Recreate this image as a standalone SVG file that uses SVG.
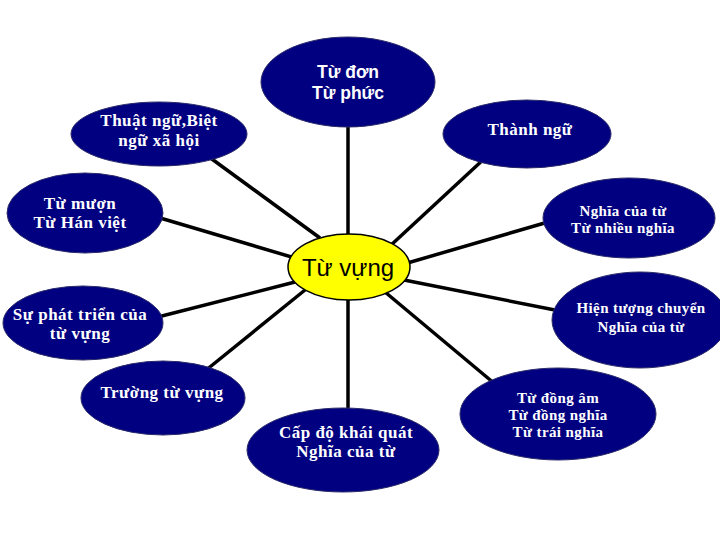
<svg xmlns="http://www.w3.org/2000/svg" width="720" height="540" viewBox="0 0 720 540">
<style>
.n{fill:#000080;stroke:#2a2a6a;stroke-width:1}
.t{fill:#fff;font-family:"Liberation Serif","DejaVu Serif",serif;font-weight:bold;font-size:17px;letter-spacing:0.5px;text-anchor:middle}
.m{fill:#fff;font-family:"Liberation Serif","DejaVu Serif",serif;font-weight:bold;font-size:15px;letter-spacing:0.4px;text-anchor:middle}
.s{fill:#fff;font-family:"Liberation Sans","DejaVu Sans",sans-serif;font-weight:bold;font-size:17.5px;text-anchor:middle}
.c line{stroke:#000;stroke-width:3.5}
</style>
<rect width="720" height="540" fill="#fff"/>
<g id="connectors" class="c">
<line x1="348" y1="120" x2="348" y2="240"/>
<line x1="205" y1="154" x2="320" y2="238"/>
<line x1="150" y1="215" x2="295" y2="258"/>
<line x1="485" y1="158" x2="390" y2="246"/>
<line x1="555" y1="220" x2="404" y2="264"/>
<line x1="150" y1="319" x2="295" y2="282"/>
<line x1="560" y1="311" x2="404" y2="280"/>
<line x1="200" y1="375" x2="305" y2="290"/>
<line x1="348" y1="295" x2="348" y2="415"/>
<line x1="495" y1="384" x2="385" y2="292"/>
</g>
<g id="tu-don"><ellipse class="n" cx="348" cy="82" rx="87" ry="45"/><text class="s" x="348" y="78">Từ đơn</text><text class="s" x="348" y="99">Từ phức</text></g>
<g id="thuat-ngu"><ellipse class="n" cx="159" cy="134" rx="88" ry="32"/><text class="t" x="159" y="126">Thuật ngữ,Biệt</text><text class="t" x="159" y="146">ngữ xã hội</text></g>
<g id="thanh-ngu"><ellipse class="n" cx="527" cy="134" rx="84" ry="34"/><text class="t" x="530" y="135">Thành ngữ</text></g>
<g id="tu-muon"><ellipse class="n" cx="85" cy="213" rx="78" ry="40"/><text class="t" x="80" y="209">Từ mượn</text><text class="t" x="80" y="228">Từ Hán việt</text></g>
<g id="nghia"><ellipse class="n" cx="629" cy="218" rx="86" ry="40"/><text class="m" x="623" y="216">Nghĩa của từ</text><text class="m" x="623" y="233">Từ nhiều nghĩa</text></g>
<g id="tu-vung"><ellipse cx="349" cy="267" rx="61" ry="33" fill="#ffff00" stroke="#000" stroke-width="1.5"/><text x="348" y="276" font-family="Liberation Sans, DejaVu Sans, sans-serif" font-size="24" text-anchor="middle" fill="#000">Từ vựng</text></g>
<g id="su-phat-trien"><ellipse class="n" cx="83" cy="323" rx="80" ry="37"/><text class="t" x="80" y="320">Sự phát triển của</text><text class="t" x="80" y="339">từ vựng</text></g>
<g id="hien-tuong"><ellipse class="n" cx="640" cy="320" rx="88" ry="48"/><text class="m" x="641" y="313">Hiện tượng chuyển</text><text class="m" x="641" y="332">Nghĩa của từ</text></g>
<g id="truong"><ellipse class="n" cx="163" cy="398" rx="82" ry="37"/><text class="t" x="162" y="398">Trường từ vựng</text></g>
<g id="cap-do"><ellipse class="n" cx="343" cy="450" rx="96" ry="42"/><text class="t" x="346" y="438">Cấp độ khái quát</text><text class="t" x="346" y="457">Nghĩa của từ</text></g>
<g id="tu-dong-am"><ellipse class="n" cx="558" cy="414" rx="98" ry="46"/><text class="m" x="558" y="403">Từ đồng âm</text><text class="m" x="558" y="420">Từ đồng nghĩa</text><text class="m" x="558" y="437">Từ trái nghĩa</text></g>
</svg>
